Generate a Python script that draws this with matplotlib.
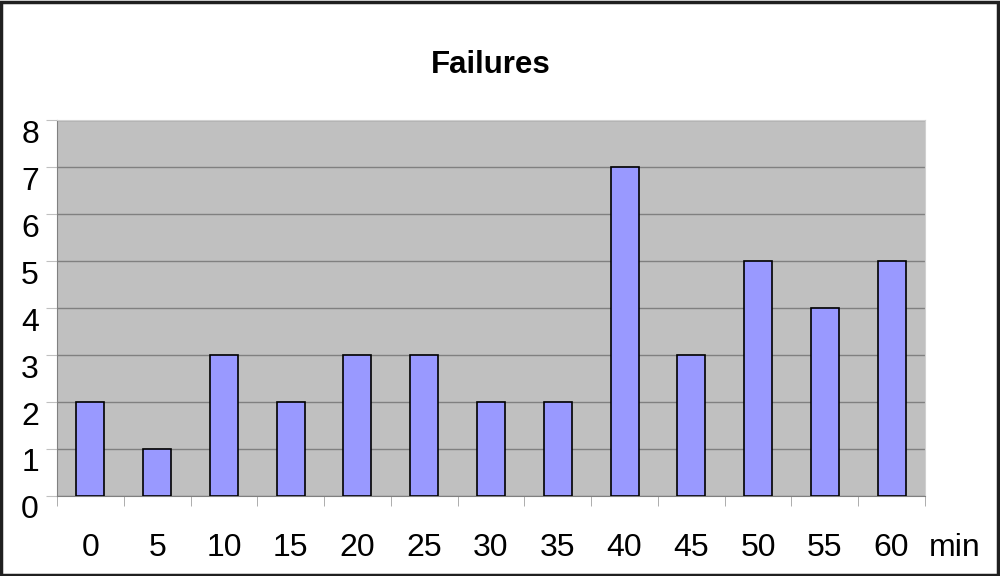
import matplotlib.pyplot as plt
import matplotlib.transforms as mtransforms
from matplotlib.patches import Rectangle
import numpy as np

plt.rcParams['font.family'] = ['Liberation Sans', 'DejaVu Sans']

# data
minutes = ['0', '5', '10', '15', '20', '25', '30', '35', '40', '45', '50', '55', '60']
failures = [2, 1, 3, 2, 3, 3, 2, 2, 7, 3, 5, 4, 5]
y_ticks = [0, 1, 2, 3, 4, 5, 6, 7, 8]

fig = plt.figure(figsize=(10, 5.76), dpi=100)
ax = fig.add_axes([0.057, 0.139, 0.868, 0.652])

x = np.arange(len(minutes))
ax.bar(x, failures, width=0.42, color='#9999ff', edgecolor='black', linewidth=1.2, zorder=3)

ax.set_facecolor('#c0c0c0')
ax.set_xlim(-0.5, len(minutes) - 0.5)
ax.set_ylim(0, 8)
ax.set_yticks(y_ticks)
ax.yaxis.grid(True, color='#808080', linewidth=1)
ax.set_axisbelow(True)

# category labels in the middle, tick marks between categories
ax.set_xticks(x)
ax.set_xticklabels(minutes)
ax.set_xticks(np.arange(-0.5, len(minutes)), minor=True)
ax.tick_params(axis='x', which='major', length=0, pad=27, labelsize=23)
ax.tick_params(axis='x', which='minor', length=7, color='#a0a0a0')
ax.tick_params(axis='y', length=8, color='#c0c0c0', pad=5, labelsize=23)

# y labels sit a bit below their gridline
offset = mtransforms.ScaledTranslation(0, -11 / 100, fig.dpi_scale_trans)
for lab in ax.get_yticklabels():
    lab.set_transform(lab.get_transform() + offset)

for side in ['left', 'bottom']:
    ax.spines[side].set_color('#808080')
for side in ['top', 'right']:
    ax.spines[side].set_color('#d0d0d0')

ax.set_title('Failures', fontsize=22.5, fontweight='bold', pad=34)
fig.text(0.955, 1 - 548 / 576, 'min', fontsize=23, ha='center', va='center')

# dark frame around the whole picture
fig.patches.append(Rectangle((0.001, 0.002), 0.997, 0.995, transform=fig.transFigure,
                             fill=False, edgecolor='#202020', linewidth=2.5))

fig.savefig('out.png', dpi=100)
